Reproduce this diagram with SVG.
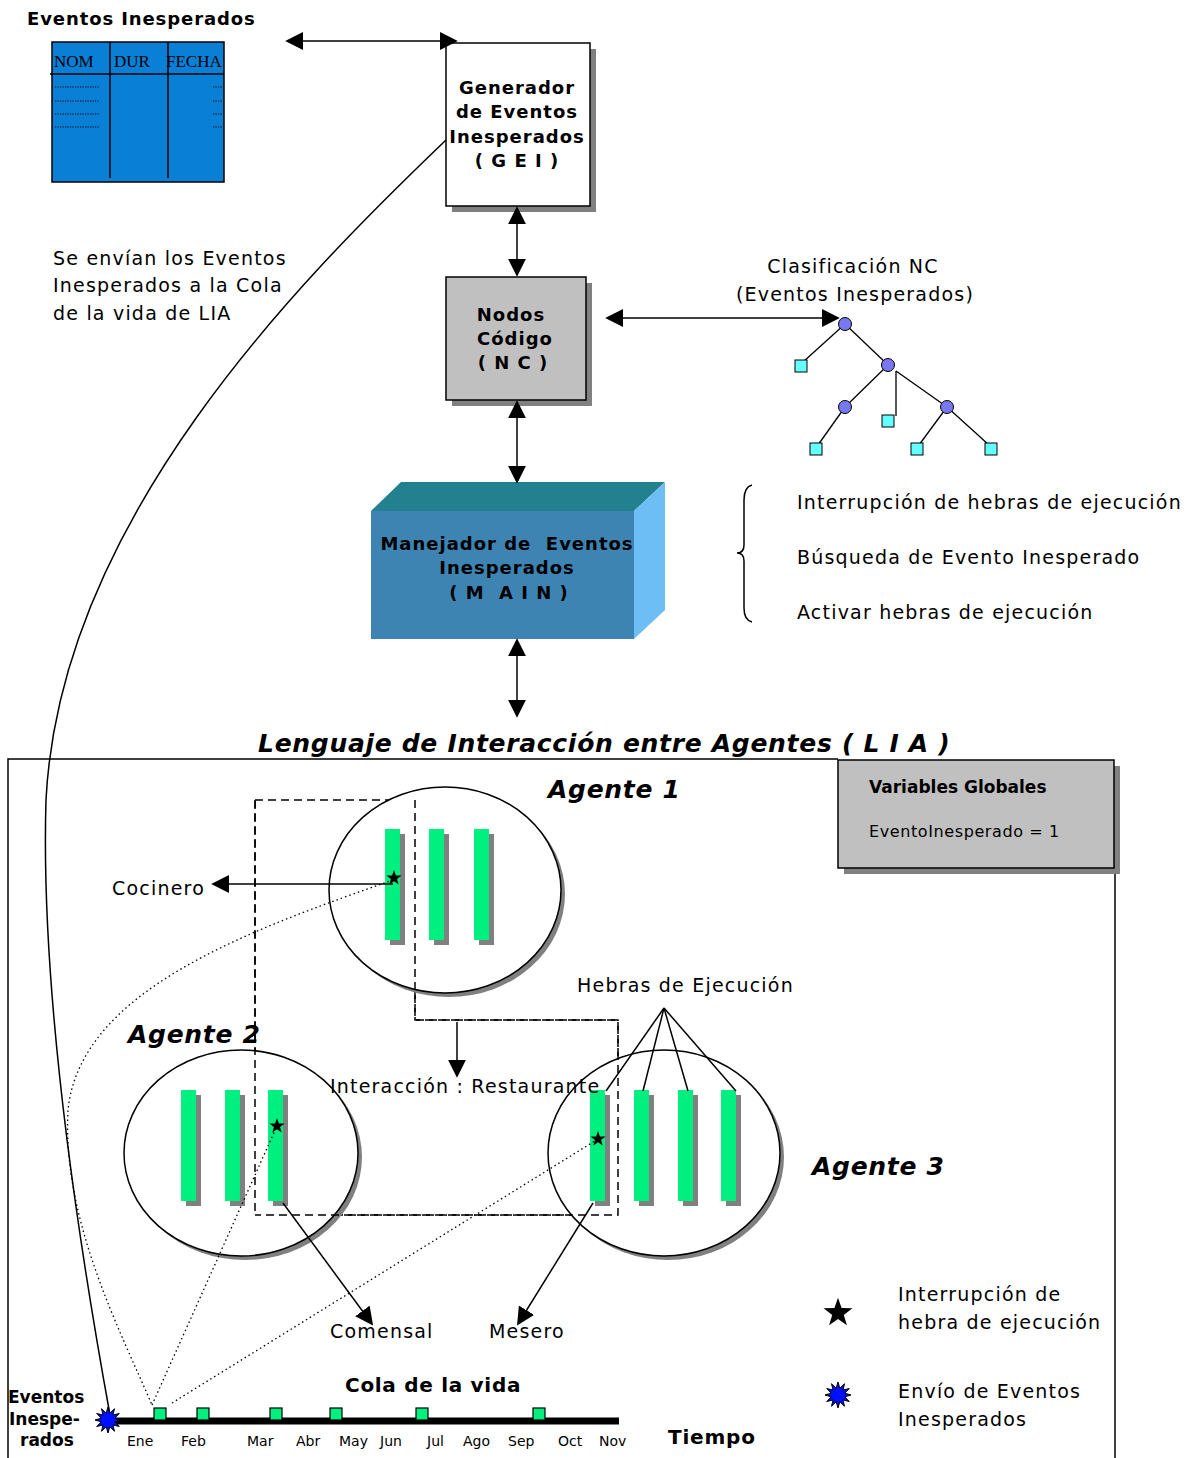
<svg xmlns="http://www.w3.org/2000/svg" width="1194" height="1458" viewBox="0 0 1194 1458">
  <style>
    text { font-family: "DejaVu Sans", Verdana, sans-serif; fill: #000; }
    .t { font-size: 19px; letter-spacing: 1.2px; }
    .b { font-weight: bold; }
    .bi { font-weight: bold; font-style: italic; letter-spacing: 0.7px; }
    .hb { font-weight: bold; font-size: 18px; letter-spacing: 1px; }
    .box { stroke: #000; stroke-width: 1.5; }
    .shadow { fill: #808080; }
    .ln { fill: none; stroke: #000; stroke-width: 1.5; }
    .dot { fill: none; stroke: #000; stroke-width: 1.3; stroke-dasharray: 1.5 3; }
    .dash { fill: none; stroke: #000; stroke-width: 1.5; stroke-dasharray: 8 5; }
    .bar { fill: #00F080; }
    .barsh { fill: #808080; }
    .circ { fill: #7878F0; stroke: #000; stroke-width: 1; }
    .leaf { fill: #66FFFF; stroke: #000; stroke-width: 1; }
    .mon { font-size: 14px; }
    .serif { font-family: "Liberation Serif", serif; font-size: 17px; }
  </style>
  <defs>
    <marker id="ahL" viewBox="0 0 10 10" refX="9" refY="5" markerWidth="18" markerHeight="18" markerUnits="userSpaceOnUse" orient="auto-start-reverse">
      <path d="M0,0 L10,5 L0,10 z" fill="#000"/>
    </marker>
    <polygon id="star" points="0,-8 1.88,-2.59 7.61,-2.47 3.04,0.99 4.70,6.47 0,3.2 -4.70,6.47 -3.04,0.99 -7.61,-2.47 -1.88,-2.59" fill="#000"/>
    <polygon id="burst" points="13,0 6.76,1.81 11.26,6.5 4.95,4.95 6.5,11.26 1.81,6.76 0,13 -1.81,6.76 -6.5,11.26 -4.95,4.95 -11.26,6.5 -6.76,1.81 -13,0 -6.76,-1.81 -11.26,-6.5 -4.95,-4.95 -6.5,-11.26 -1.81,-6.76 0,-13 1.81,-6.76 6.5,-11.26 4.95,-4.95 11.26,-6.5 6.76,-1.81" fill="#0010FF" stroke="#000" stroke-width="1"/>
    <g id="bar">
      <rect class="barsh" x="5" y="5" width="15" height="111"/>
      <rect class="bar" x="0" y="0" width="15" height="111"/>
    </g>
  </defs>

  <!-- unexpected-events table -->
  <g id="tabla">
    <text x="27" y="25" class="b" font-size="18" letter-spacing="0.9">Eventos Inesperados</text>
    <rect x="52" y="42" width="172" height="140" fill="#0A7FD6" stroke="#000" stroke-width="1.5"/>
    <line x1="50" y1="74" x2="224" y2="74" stroke="#000" stroke-width="1.5"/>
    <line x1="110" y1="42" x2="110" y2="178" stroke="#000" stroke-width="1.5"/>
    <line x1="168" y1="42" x2="168" y2="178" stroke="#000" stroke-width="1.5"/>
    <text x="54" y="67" class="serif">NOM</text>
    <text x="114" y="67" class="serif">DUR</text>
    <text x="166" y="67" class="serif">FECHA</text>
    <g stroke="#000" stroke-width="1.2" stroke-dasharray="1.2 1.3">
      <line x1="55" y1="87" x2="100" y2="87"/>
      <line x1="55" y1="101" x2="100" y2="101"/>
      <line x1="55" y1="114" x2="100" y2="114"/>
      <line x1="55" y1="127" x2="100" y2="127"/>
      <line x1="213" y1="87" x2="222" y2="87"/>
      <line x1="213" y1="101" x2="222" y2="101"/>
      <line x1="213" y1="114" x2="222" y2="114"/>
      <line x1="213" y1="127" x2="222" y2="127"/>
    </g>
  </g>

  <!-- GEI -->
  <g id="gei">
    <rect class="shadow" x="452" y="49" width="144" height="163"/>
    <rect class="box" x="446" y="43" width="144" height="163" fill="#fff"/>
    <g class="hb" text-anchor="middle">
      <text x="517" y="94">Generador</text>
      <text x="517" y="118">de Eventos</text>
      <text x="517" y="143">Inesperados</text>
      <text x="517" y="167">( G E I )</text>
    </g>
  </g>

  <!-- NC -->
  <g id="nc">
    <rect class="shadow" x="452" y="283" width="140" height="123"/>
    <rect class="box" x="446" y="277" width="140" height="123" fill="#C0C0C0"/>
    <g class="hb" text-anchor="middle">
      <text x="511" y="321">Nodos</text>
      <text x="515" y="345">Código</text>
      <text x="513" y="369">( N C )</text>
    </g>
  </g>

  <!-- NC classification tree -->
  <g id="arbol">
    <text x="853" y="273" class="t" text-anchor="middle">Clasificación NC</text>
    <text x="855" y="301" class="t" text-anchor="middle">(Eventos Inesperados)</text>
    <g stroke="#000" stroke-width="1.3">
      <line x1="845" y1="324" x2="803" y2="362"/>
      <line x1="845" y1="324" x2="888" y2="365"/>
      <line x1="888" y1="365" x2="845" y2="407"/>
      <line x1="896" y1="371" x2="896" y2="416"/>
      <line x1="896" y1="371" x2="947" y2="407"/>
      <line x1="845" y1="407" x2="818" y2="445"/>
      <line x1="947" y1="407" x2="919" y2="445"/>
      <line x1="947" y1="407" x2="989" y2="445"/>
    </g>
    <circle class="circ" cx="845" cy="324" r="6.5"/>
    <circle class="circ" cx="888" cy="365" r="6.5"/>
    <circle class="circ" cx="845" cy="407" r="6.5"/>
    <circle class="circ" cx="947" cy="407" r="6.5"/>
    <rect class="leaf" x="795" y="360" width="12" height="12"/>
    <rect class="leaf" x="882" y="415" width="12" height="12"/>
    <rect class="leaf" x="810" y="443" width="12" height="12"/>
    <rect class="leaf" x="911" y="443" width="12" height="12"/>
    <rect class="leaf" x="985" y="443" width="12" height="12"/>
  </g>

  <!-- MAIN -->
  <g id="main">
    <polygon points="371,511 401,482 665,482 634,511" fill="#23808F"/>
    <polygon points="634,511 665,482 665,610 634,639" fill="#6CBEF4"/>
    <rect x="371" y="511" width="263" height="128" fill="#3E84B3"/>
    <g class="hb" text-anchor="middle">
      <text x="507" y="550" xml:space="preserve">Manejador de  Eventos</text>
      <text x="507" y="574">Inesperados</text>
      <text x="509" y="599" xml:space="preserve">( M  A I N )</text>
    </g>
  </g>

  <!-- MAIN tasks -->
  <g id="tareas">
    <path class="ln" d="M752,485 Q744,487 744,500 L744,545 Q744,553 737,553 Q744,553 744,561 L744,608 Q744,620 752,622" stroke-width="1.2"/>
    <text x="797" y="509" class="t">Interrupción de hebras de ejecución</text>
    <text x="797" y="564" class="t">Búsqueda de Evento Inesperado</text>
    <text x="797" y="619" class="t">Activar hebras de ejecución</text>
  </g>

  <text x="53" y="265" class="t">Se envían los Eventos</text>
  <text x="53" y="292" class="t">Inesperados a la Cola</text>
  <text x="53" y="320" class="t">de la vida de LIA</text>

  <!-- LIA frame -->
  <g id="lia">
    <text x="258" y="752" class="bi" font-size="25">Lenguaje de Interacción entre Agentes ( L I A )</text>
    <polyline points="8,1458 8,759 838,759" class="ln"/>
    <line x1="1115" y1="868" x2="1115" y2="1458" stroke="#000" stroke-width="1.5"/>
  </g>

  <g id="variables">
    <rect class="shadow" x="844" y="766" width="276" height="108"/>
    <rect class="box" x="838" y="760" width="276" height="108" fill="#C0C0C0"/>
    <text x="869" y="793" class="b" font-size="17">Variables Globales</text>
    <text x="869" y="837" font-size="16" letter-spacing="0.6">EventoInesperado = 1</text>
  </g>

  <!-- interaction region -->
  <path class="dash" d="M255,800 L415,800 L415,1020 L618,1020 L618,1215 L255,1215 Z"/>

  <!-- agents -->
  <g id="agente1">
    <ellipse cx="449" cy="894" rx="116" ry="103" fill="#808080"/>
    <ellipse cx="445" cy="890" rx="116" ry="103" fill="#fff" stroke="#000" stroke-width="1.5"/>
    <use href="#bar" x="385" y="829"/>
    <use href="#bar" x="429" y="829"/>
    <use href="#bar" x="474" y="829"/>
    <use href="#star" x="394" y="878"/>
    <text x="548" y="798" class="bi" font-size="25">Agente 1</text>
  </g>

  <g id="agente2">
    <ellipse cx="245" cy="1157" rx="117" ry="103" fill="#808080"/>
    <ellipse cx="241" cy="1153" rx="117" ry="103" fill="#fff" stroke="#000" stroke-width="1.5"/>
    <use href="#bar" x="181" y="1090"/>
    <use href="#bar" x="225" y="1090"/>
    <use href="#bar" x="268" y="1090"/>
    <use href="#star" x="277" y="1126"/>
    <text x="128" y="1043" class="bi" font-size="25">Agente 2</text>
  </g>

  <g id="agente3">
    <ellipse cx="668" cy="1157" rx="116" ry="103" fill="#808080"/>
    <ellipse cx="664" cy="1153" rx="116" ry="103" fill="#fff" stroke="#000" stroke-width="1.5"/>
    <use href="#bar" x="590" y="1090"/>
    <use href="#bar" x="634" y="1090"/>
    <use href="#bar" x="678" y="1090"/>
    <use href="#bar" x="721" y="1090"/>
    <use href="#star" x="598" y="1139"/>
    <text x="812" y="1175" class="bi" font-size="25">Agente 3</text>
  </g>

  <!-- dashed edges drawn again on top of the agent circles -->
  <path class="dash" d="M255,800 L255,1215 M415,800 L415,1020 L618,1020 L618,1215 L255,1215"/>

  <!-- labels -->
  <text x="330" y="1093" class="t">Interacción : Restaurante</text>
  <text x="112" y="895" class="t">Cocinero</text>
  <text x="577" y="992" class="t">Hebras de Ejecución</text>
  <text x="330" y="1338" class="t">Comensal</text>
  <text x="489" y="1338" class="t">Mesero</text>

  <!-- timeline -->
  <g id="cola">
    <text x="345" y="1392" class="b" font-size="20" letter-spacing="0.7">Cola de la vida</text>
    <line x1="110" y1="1421" x2="619" y2="1421" stroke="#000" stroke-width="7"/>
    <g fill="#00F080" stroke="#000" stroke-width="1.2">
      <rect x="154" y="1408" width="12" height="12"/>
      <rect x="197" y="1408" width="12" height="12"/>
      <rect x="270" y="1408" width="12" height="12"/>
      <rect x="330" y="1408" width="12" height="12"/>
      <rect x="416" y="1408" width="12" height="12"/>
      <rect x="533" y="1408" width="12" height="12"/>
    </g>
    <g class="mon">
      <text x="127" y="1446">Ene</text>
      <text x="181" y="1446">Feb</text>
      <text x="247" y="1446">Mar</text>
      <text x="296" y="1446">Abr</text>
      <text x="339" y="1446">May</text>
      <text x="380" y="1446">Jun</text>
      <text x="427" y="1446">Jul</text>
      <text x="463" y="1446">Ago</text>
      <text x="508" y="1446">Sep</text>
      <text x="558" y="1446">Oct</text>
      <text x="599" y="1446">Nov</text>
    </g>
    <text x="668" y="1444" class="b" font-size="20" letter-spacing="0.8">Tiempo</text>
    <g class="b" font-size="17">
      <text x="8" y="1403">Eventos</text>
      <text x="9" y="1425">Inespe-</text>
      <text x="20" y="1446">rados</text>
    </g>
  </g>

  <!-- connectors -->
  <g id="conectores">
    <line class="ln" x1="287" y1="41" x2="456" y2="41" marker-start="url(#ahL)" marker-end="url(#ahL)"/>
    <line class="ln" x1="517" y1="208" x2="517" y2="275" marker-start="url(#ahL)" marker-end="url(#ahL)"/>
    <line class="ln" x1="517" y1="402" x2="517" y2="482" marker-start="url(#ahL)" marker-end="url(#ahL)"/>
    <line class="ln" x1="607" y1="318" x2="838" y2="318" marker-start="url(#ahL)" marker-end="url(#ahL)"/>
    <line class="ln" x1="517" y1="640" x2="517" y2="716" marker-start="url(#ahL)" marker-end="url(#ahL)"/>
    <line class="ln" x1="393" y1="884" x2="213" y2="884" marker-end="url(#ahL)"/>
    <line class="ln" x1="457" y1="1022" x2="457" y2="1076" marker-end="url(#ahL)"/>
    <line class="ln" x1="283" y1="1203" x2="372" y2="1324" marker-end="url(#ahL)"/>
    <line class="ln" x1="593" y1="1203" x2="518" y2="1324" marker-end="url(#ahL)"/>
    <g class="ln" stroke-width="1.2">
      <line x1="664" y1="1008" x2="606" y2="1091"/>
      <line x1="664" y1="1008" x2="643" y2="1091"/>
      <line x1="664" y1="1008" x2="688" y2="1091"/>
      <line x1="664" y1="1008" x2="736" y2="1091"/>
    </g>
    <!-- events sent from GEI down to the life queue -->
    <path class="ln" stroke-width="1.3" d="M446,140 C300,280 60,520 46,800 C40,1000 80,1250 110,1415"/>
    <path class="dot" d="M393,880 C250,930 80,990 68,1110 C62,1220 120,1330 152,1405"/>
    <line class="dot" x1="152" y1="1405" x2="277" y2="1126"/>
    <line class="dot" x1="172" y1="1403" x2="598" y2="1139"/>
  </g>

  <use href="#burst" x="108" y="1420"/>

  <!-- legend -->
  <g id="leyenda">
    <use href="#star" transform="translate(838,1313) scale(1.9)"/>
    <text x="898" y="1301" class="t">Interrupción de</text>
    <text x="898" y="1329" class="t">hebra de ejecución</text>
    <use href="#burst" x="838" y="1395"/>
    <text x="898" y="1398" class="t">Envío de Eventos</text>
    <text x="898" y="1426" class="t">Inesperados</text>
  </g>
</svg>
